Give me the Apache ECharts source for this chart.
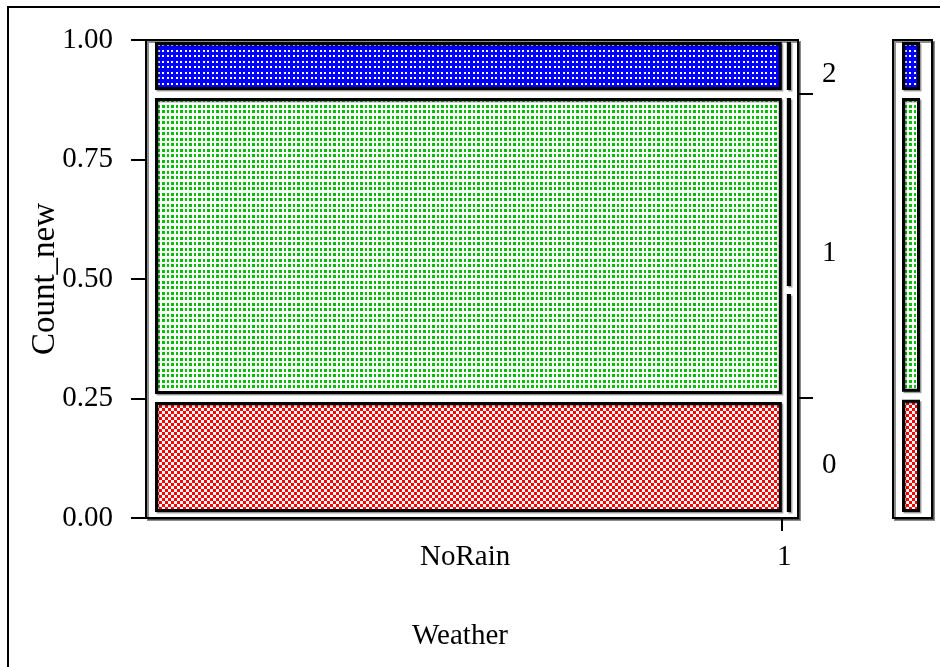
<!DOCTYPE html>
<html>
<head>
<meta charset="utf-8">
<script src="https://cdn.jsdelivr.net/npm/echarts@6/dist/echarts.min.js"></script>
<style>html,body{margin:0;padding:0;background:#fff}#c{width:940px;height:667px}</style>
</head>
<body>
<div id="c"></div>
<script>
// ---- data ----
const weatherCats = ['NoRain', '1'];
const weatherShare = [0.979, 0.021];
const countLevels = ['0', '1', '2'];
const propByWeather = [
  [0.251, 0.636, 0.113],   // NoRain
  [0.477, 0.410, 0.113]    // 1
];
const marginalProp = [0.256, 0.631, 0.113];
const yTickValues = [0, 0.25, 0.5, 0.75, 1];

const FONT = 'Liberation Serif';

// ---- fill patterns ----
function makePattern(w, h, bg, fg, cells) {
  const c = document.createElement('canvas');
  c.width = w; c.height = h;
  const g = c.getContext('2d');
  g.fillStyle = bg; g.fillRect(0, 0, w, h);
  g.fillStyle = fg;
  cells.forEach(r => g.fillRect(r[0], r[1], r[2], r[3]));
  return { image: c, repeat: 'repeat' };
}
const patRed = makePattern(6, 6, '#ffffff', '#ff0000', [[0,0,3,3],[3,3,3,3]]);
const patGreen = makePattern(9, 11, '#ffffff', '#00c000', [[0,0,3,3],[5,0,2,3],[0,6,3,3],[5,6,2,3]]);
const patBlue = makePattern(9, 11, '#0000ff', '#ffffff', [[0,0,2,2],[5,0,2,2],[0,6,2,2],[5,6,2,2]]);
const levelFill = [patRed, patGreen, patBlue];

// ---- build rectangles ----
const mosaicData = [];
let xc = 0;
weatherCats.forEach((w, i) => {
  const x0 = xc, x1 = xc + weatherShare[i];
  let yc = 0;
  propByWeather[i].forEach((p, j) => {
    mosaicData.push([x0, x1, yc, yc + p, i, j]);
    yc += p;
  });
  xc = x1;
});
const marginData = [];
{
  let yc = 0;
  marginalProp.forEach((p, j) => { marginData.push([0, 1, yc, yc + p, 0, j]); yc += p; });
}
const cumNoRain = [propByWeather[0][0], propByWeather[0][0] + propByWeather[0][1]];
const levelCenters = [cumNoRain[0] / 2, (cumNoRain[0] + cumNoRain[1]) / 2, (cumNoRain[1] + 1) / 2];
const colBoundary = weatherShare[0];
const colLabelPos = [weatherShare[0] / 2, colBoundary];

function makeRender(edgeL, edgeR, innerX) {
  return function (params, api) {
    const x0 = api.value(0), x1 = api.value(1), y0 = api.value(2), y1 = api.value(3);
    const col = api.value(4), lev = api.value(5);
    const pA = api.coord([x0, y0]);
    const pB = api.coord([x1, y1]);
    const l = pA[0] + (x0 <= 0 ? edgeL : innerX);
    const r = pB[0] - (x1 >= 0.9999 ? edgeR : innerX);
    const b = pA[1] - (y0 <= 0 ? 6 : 4);
    const t = pB[1] + (y1 >= 0.9999 ? 2 : 4);
    const lw = 3;
    const black = col === 1;
    return {
      type: 'rect',
      shape: { x: l + lw / 2, y: t + lw / 2, width: Math.max(0.5, r - l - lw), height: Math.max(0.5, b - t - lw) },
      style: {
        fill: black ? '#000' : levelFill[lev],
        stroke: '#000',
        lineWidth: lw,
        shadowColor: 'rgba(0,0,0,0.35)',
        shadowOffsetX: 1.5,
        shadowOffsetY: 1.5,
        shadowBlur: 0
      }
    };
  };
}

const txt = { color: '#000', fontFamily: FONT, fontSize: 29 };

const chart = echarts.init(document.getElementById('c'), null, { renderer: 'canvas' });
chart.setOption({
  animation: false,
  backgroundColor: '#fff',
  graphic: [
    { type: 'polyline', shape: { points: [[8, 668], [8, 7], [941, 7]] }, style: { stroke: '#000', lineWidth: 2, fill: null } }
  ],
  grid: [
    { left: 146, right: 142, top: 40, bottom: 149, show: true, borderColor: '#000', borderWidth: 2, backgroundColor: '#fff',
      shadowColor: 'rgba(0,0,0,0.45)', shadowOffsetX: 2, shadowOffsetY: 2, shadowBlur: 0 },
    { left: 893, right: 8, top: 40, bottom: 149, show: true, borderColor: '#000', borderWidth: 2, backgroundColor: '#fff',
      shadowColor: 'rgba(0,0,0,0.45)', shadowOffsetX: 2, shadowOffsetY: 2, shadowBlur: 0 }
  ],
  xAxis: [
    { type: 'value', gridIndex: 0, min: 0, max: 1,
      axisLine: { show: true, lineStyle: { color: '#000', width: 2 } },
      axisTick: { show: true, length: 13, customValues: [colBoundary - 0.004], lineStyle: { color: '#000', width: 2 } },
      axisLabel: { show: true, customValues: colLabelPos, margin: 25, ...txt,
        formatter: v => weatherCats[colLabelPos.findIndex(c => Math.abs(c - v) < 1e-6)] || '' },
      splitLine: { show: false },
      nameMoveOverlap: false,
      name: 'Weather', nameLocation: 'middle', nameGap: 104, nameTextStyle: { ...txt, padding: [0, 24, 0, 0] } },
    { type: 'value', gridIndex: 1, min: 0, max: 1, show: false }
  ],
  yAxis: [
    { type: 'value', gridIndex: 0, min: 0, max: 1, interval: 0.25,
      axisLine: { show: true, lineStyle: { color: '#000', width: 2 } },
      axisTick: { show: true, length: 15, lineStyle: { color: '#000', width: 2 } },
      axisLabel: { margin: 33, ...txt, formatter: v => v.toFixed(2) },
      splitLine: { show: false },
      nameMoveOverlap: false,
      name: 'Count_new', nameLocation: 'middle', nameGap: 84, nameTextStyle: { ...txt, fontSize: 33 } },
    { type: 'value', gridIndex: 0, position: 'right', min: 0, max: 1,
      axisLine: { show: false },
      axisTick: { show: true, length: 15, customValues: cumNoRain, lineStyle: { color: '#000', width: 2 } },
      axisLabel: { show: true, customValues: levelCenters, margin: 24, ...txt, verticalAlign: 'top', lineHeight: 14,
        formatter: v => countLevels[levelCenters.findIndex(c => Math.abs(c - v) < 1e-6)] || '' },
      splitLine: { show: false } },
    { type: 'value', gridIndex: 1, min: 0, max: 1, show: false }
  ],
  series: [
    { type: 'custom', xAxisIndex: 0, yAxisIndex: 0, renderItem: makeRender(9, 7, 2.5), data: mosaicData, silent: true, clip: false },
    { type: 'custom', xAxisIndex: 1, yAxisIndex: 2, renderItem: makeRender(9, 12, 0), data: marginData, silent: true, clip: false }
  ]
});
</script>
</body>
</html>
